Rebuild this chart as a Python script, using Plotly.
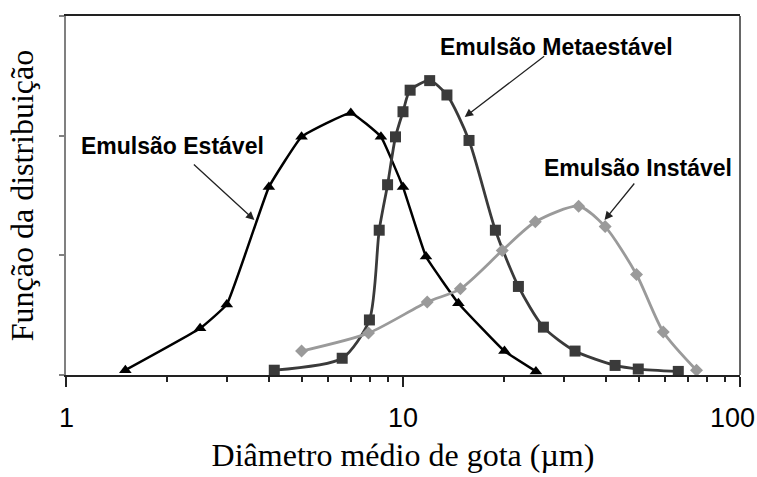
import math
import plotly.graph_objects as go

# Droplet size distributions for three emulsions (log-scaled diameter)
stable_d = [1.5, 2.5, 3.0, 4.0, 5.0, 7.0, 8.6, 10.0, 11.7, 14.6, 20.0, 24.8]
stable_f = [0.04, 0.39, 0.59, 1.57, 1.99, 2.19, 1.99, 1.57, 0.99, 0.60, 0.20, 0.03]

meta_d = [4.15, 6.6, 7.95, 8.5, 9.0, 9.5, 10.0, 10.5, 12.0, 13.5, 15.7,
          18.8, 22.0, 26.1, 32.4, 42.6, 49.9, 65.6]
meta_f = [0.04, 0.14, 0.46, 1.21, 1.59, 1.99, 2.20, 2.38, 2.46, 2.34, 1.96,
          1.21, 0.74, 0.40, 0.20, 0.08, 0.05, 0.03]

unstable_d = [5.0, 7.9, 11.8, 14.8, 19.7, 24.7, 33.2, 39.8, 49.3, 59.2, 74.3]
unstable_f = [0.20, 0.35, 0.61, 0.72, 1.04, 1.28, 1.41, 1.24, 0.84, 0.36, 0.04]

x_ticks = [1, 10, 100]
x_tick_text = ["1", "10", "100"]
x_minor = [2, 3, 4, 5, 6, 7, 8, 9, 20, 30, 40, 50, 60, 70, 80, 90]
y_ticks = [0, 1, 2, 3]

fig = go.Figure()

fig.add_trace(go.Scatter(
    x=stable_d, y=stable_f, mode="lines+markers", name="Emulsão Estável",
    line=dict(color="#000000", width=2.5, shape="spline", smoothing=0.3),
    marker=dict(symbol="triangle-up", size=11, color="#000000"),
))
fig.add_trace(go.Scatter(
    x=meta_d, y=meta_f, mode="lines+markers", name="Emulsão Metaestável",
    line=dict(color="#3a3a3a", width=2.8, shape="spline", smoothing=0.7),
    marker=dict(symbol="square", size=11, color="#3a3a3a"),
))
fig.add_trace(go.Scatter(
    x=unstable_d, y=unstable_f, mode="lines+markers", name="Emulsão Instável",
    line=dict(color="#9a9a9a", width=2.8, shape="spline", smoothing=0.7),
    marker=dict(symbol="diamond", size=10, color="#9a9a9a"),
))

label_font = dict(family="Liberation Sans, Arial", size=23, color="#000000")
tick_font = dict(family="Liberation Sans, Arial", size=27, color="#000000")

# Curve labels with pointer arrows (arrow head in data coordinates, x as log10)
labels = [
    # text, text x (log10), text y, head x (log10), head y, tail offset px
    ("<b>Emulsão Estável</b>", 0.317, 1.913, 0.559, 1.295, -62, -57),
    ("<b>Emulsão Metaestável</b>", 1.456, 2.74, 1.183, 2.155, 81, -62),
    ("<b>Emulsão Instável</b>", 1.698, 1.729, 1.598, 1.295, 31, -38),
]
for text, tx, ty, hx, hy, axo, ayo in labels:
    fig.add_annotation(x=tx, y=ty, text=text, showarrow=False,
                       font=label_font, xanchor="center", yanchor="middle")
    fig.add_annotation(x=hx, y=hy, text="", showarrow=True, ax=axo, ay=ayo,
                       arrowhead=2, arrowsize=1.3, arrowwidth=1.3,
                       arrowcolor="#222222")

# Decade labels under the log axis; the last one is kept inside the page edge
for i, (v, t) in enumerate(zip(x_ticks, x_tick_text)):
    last = i == len(x_ticks) - 1
    fig.add_annotation(
        x=math.log10(v), xref="x", y=0, yref="paper", text=t, showarrow=False,
        font=tick_font, yanchor="top", yshift=-26,
        xanchor="right" if last else "center", xshift=17 if last else 0,
    )

# right-hand frame line of the plot box
fig.add_shape(type="line", xref="paper", yref="paper", x0=1, x1=1, y0=0, y1=1,
              line=dict(color="#333333", width=1.5))

fig.update_layout(
    width=757, height=477,
    margin=dict(l=66, r=17, t=16, b=102),
    paper_bgcolor="white", plot_bgcolor="white",
    showlegend=False,
    xaxis=dict(
        type="log", range=[0, 2], automargin=False,
        tickvals=x_ticks, showticklabels=False,
        ticks="outside", ticklen=10, tickwidth=1.5, tickcolor="#222222",
        minor=dict(tickvals=x_minor, ticks="outside", ticklen=5,
                   tickwidth=1.5, tickcolor="#222222", showgrid=False),
        showgrid=False, zeroline=False,
        showline=True, linecolor="#222222", linewidth=1.5, mirror=True,
        title=dict(text="Diâmetro médio de gota (µm)", standoff=58,
                   font=dict(family="Liberation Serif, Times New Roman",
                             size=32, color="#000000")),
    ),
    yaxis=dict(
        range=[0, 3], tickvals=y_ticks, showticklabels=False, automargin=False,
        ticks="outside", ticklen=5, tickwidth=1.5, tickcolor="#808080",
        showgrid=False, zeroline=False,
        showline=True, linecolor="#808080", linewidth=1.5, mirror=False,
        title=dict(text="Função da distribuição", standoff=16,
                   font=dict(family="Liberation Serif, Times New Roman",
                             size=32, color="#000000")),
    ),
)

fig.write_html("out.html")
